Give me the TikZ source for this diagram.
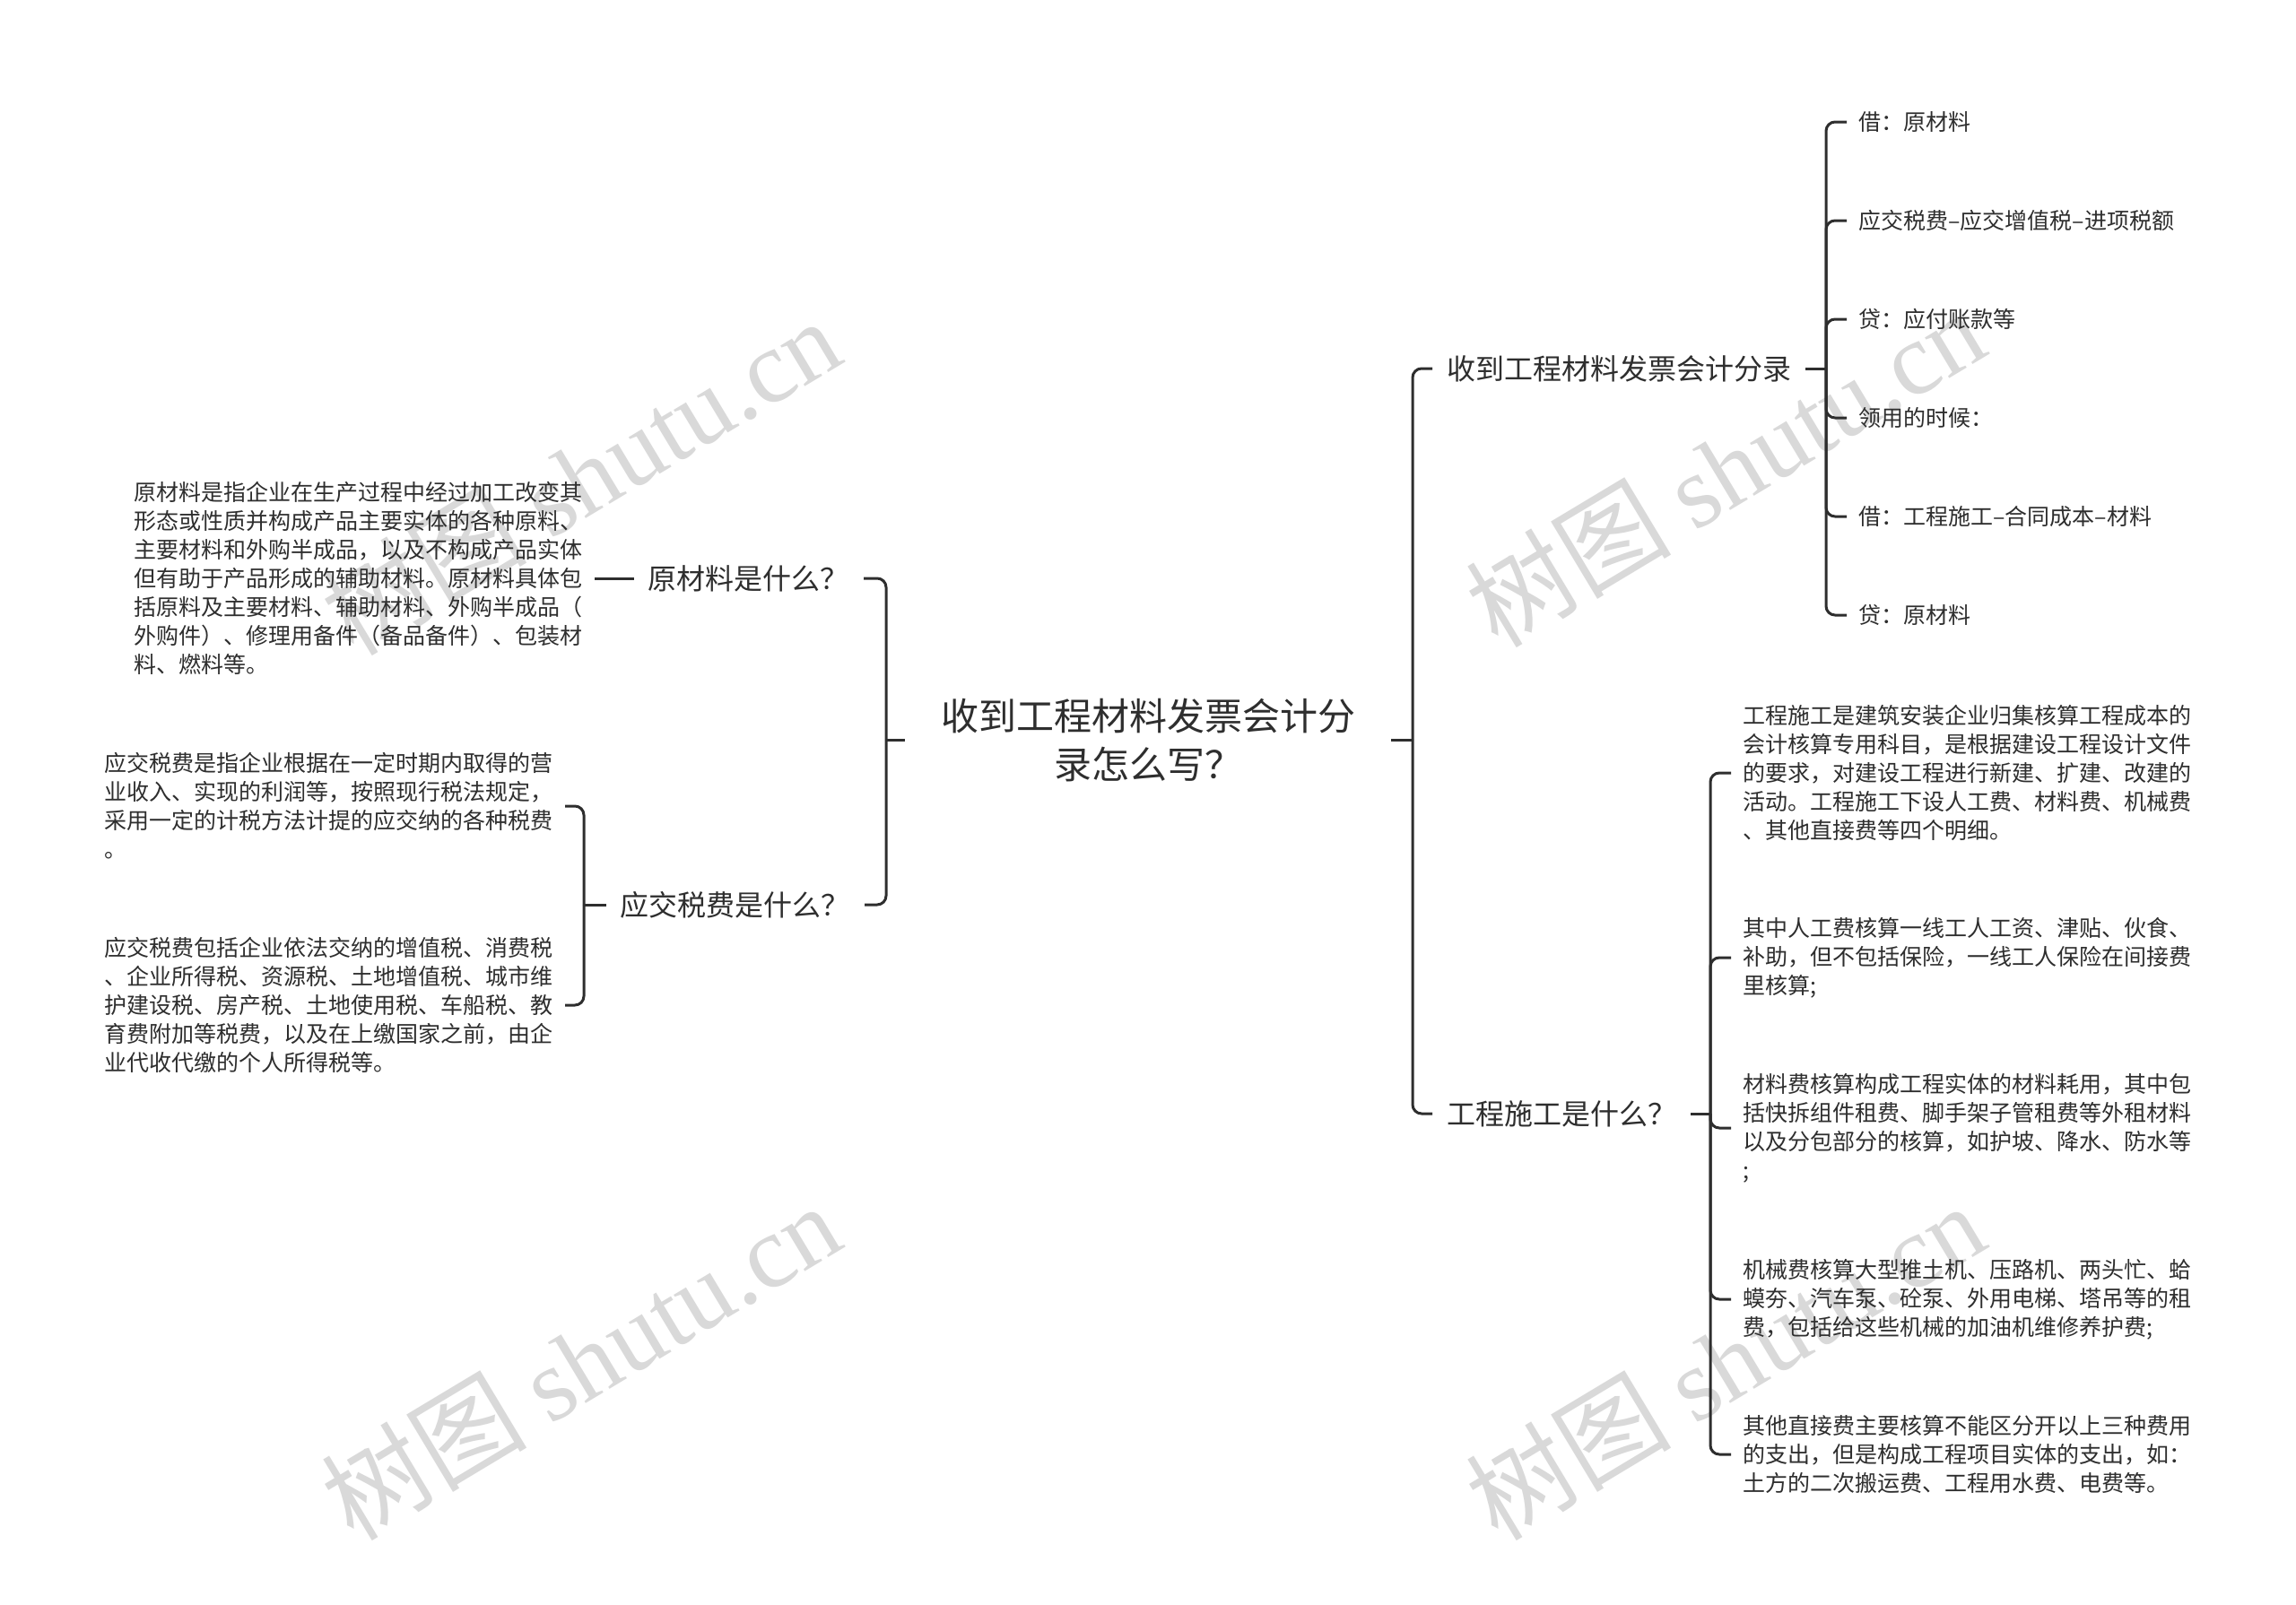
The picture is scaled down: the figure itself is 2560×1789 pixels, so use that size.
\documentclass[tikz,border=0pt]{standalone}
\usepackage{fontspec}
\setmainfont{Noto Sans CJK SC}
\newfontfamily\wmlatin{Liberation Serif}
\newfontfamily\wmcjk{Noto Sans CJK SC}
\usetikzlibrary{calc}
\definecolor{ink}{HTML}{2E2E2E}
\definecolor{wmgray}{HTML}{D9D9D9}
\begin{document}
\begin{tikzpicture}[x=1pt,y=-1pt,
  conn/.style={draw=ink, line width=3pt},
  rc/.style={rounded corners=10pt},
  rootnode/.style={inner xsep=40pt, inner ysep=4pt, align=center, font=\fontsize{42}{54}\selectfont, text=ink},
  topic/.style={inner xsep=16pt, inner ysep=4pt, font=\fontsize{32}{40}\selectfont, text=ink},
  leaf/.style={inner xsep=13pt, inner ysep=2pt, align=left, font=\fontsize{25}{32}\selectfont, text=ink},
  para/.style={leaf, text width=500pt},
  wmark/.style={text=wmgray, rotate=31, font=\fontsize{115}{120}\selectfont}
]
\fill[white] (0,0) rectangle (2560,1789);
\useasboundingbox (0,0) rectangle (2560,1789);

% watermarks
\node[wmark] (wm1) at (647,531) {{\wmcjk 树图} {\wmlatin shutu.cn}};
\node[wmark] (wm2) at (647,1518) {{\wmcjk 树图} {\wmlatin shutu.cn}};
\node[wmark] (wm3) at (1923,522) {{\wmcjk 树图} {\wmlatin shutu.cn}};
\node[wmark] (wm4) at (1923,1518) {{\wmcjk 树图} {\wmlatin shutu.cn}};

% root
\node[rootnode] (root) at (1280,825) {收到工程材料发票会计分\\录怎么写？};

% left topics
\node[topic, anchor=east] (L1) at (963,645) {原材料是什么？};
\node[topic, anchor=east] (L2) at (964,1009) {应交税费是什么？};

\node[para, anchor=east] (a1) at (663,645) {原材料是指企业在生产过程中经过加工改变其\\形态或性质并构成产品主要实体的各种原料、\\主要材料和外购半成品，以及不构成产品实体\\但有助于产品形成的辅助材料。原材料具体包\\括原料及主要材料、辅助材料、外购半成品（\\外购件）、修理用备件（备品备件）、包装材\\料、燃料等。};

\node[para, anchor=east] (b1) at (630,899) {应交税费是指企业根据在一定时期内取得的营\\业收入、实现的利润等，按照现行税法规定，\\采用一定的计税方法计提的应交纳的各种税费\\。};
\node[para, anchor=east] (b2) at (630,1121) {应交税费包括企业依法交纳的增值税、消费税\\、企业所得税、资源税、土地增值税、城市维\\护建设税、房产税、土地使用税、车船税、教\\育费附加等税费，以及在上缴国家之前，由企\\业代收代缴的个人所得税等。};

% right topics
\node[topic, anchor=west] (R1) at (1597,411) {收到工程材料发票会计分录};
\node[topic, anchor=west] (R2) at (1597,1242) {工程施工是什么？};

\node[leaf, anchor=west] (c1) at (2059,136) {借：原材料};
\node[leaf, anchor=west] (c2) at (2059,246) {应交税费–应交增值税–进项税额};
\node[leaf, anchor=west] (c3) at (2059,356) {贷：应付账款等};
\node[leaf, anchor=west] (c4) at (2059,466) {领用的时候：};
\node[leaf, anchor=west] (c5) at (2059,576) {借：工程施工–合同成本–材料};
\node[leaf, anchor=west] (c6) at (2059,686) {贷：原材料};

\node[para, anchor=west] (d1) at (1930,862) {工程施工是建筑安装企业归集核算工程成本的\\会计核算专用科目，是根据建设工程设计文件\\的要求，对建设工程进行新建、扩建、改建的\\活动。工程施工下设人工费、材料费、机械费\\、其他直接费等四个明细。};
\node[para, anchor=west] (d2) at (1930,1068) {其中人工费核算一线工人工资、津贴、伙食、\\补助，但不包括保险，一线工人保险在间接费\\里核算;};
\node[para, anchor=west] (d3) at (1930,1258) {材料费核算构成工程实体的材料耗用，其中包\\括快拆组件租费、脚手架子管租费等外租材料\\以及分包部分的核算，如护坡、降水、防水等\\;};
\node[para, anchor=west] (d4) at (1930,1449) {机械费核算大型推土机、压路机、两头忙、蛤\\蟆夯、汽车泵、砼泵、外用电梯、塔吊等的租\\费，包括给这些机械的加油机维修养护费;};
\node[para, anchor=west] (d5) at (1930,1622) {其他直接费主要核算不能区分开以上三种费用\\的支出，但是构成工程项目实体的支出，如：\\土方的二次搬运费、工程用水费、电费等。};

% trunk points
\coordinate (tL) at (988,825);
\coordinate (tL2) at (651,1009);
\coordinate (tR) at (1575,825);
\coordinate (tR1) at (2036,411);
\coordinate (tR2) at (1907,1242);

% connectors left
\draw[conn] (root.west) -- (tL);
\draw[conn,rc] (tL) |- (L1.east);
\draw[conn,rc] (tL) |- (L2.east);
\draw[conn] (L1.west) -- (a1.east);
\draw[conn] (L2.west) -- (tL2);
\draw[conn,rc] (tL2) |- (b1.east);
\draw[conn,rc] (tL2) |- (b2.east);

% connectors right
\draw[conn] (root.east) -- (tR);
\draw[conn,rc] (tR) |- (R1.west);
\draw[conn,rc] (tR) |- (R2.west);
\draw[conn] (R1.east) -- (tR1);
\foreach \c in {c1,c2,c3,c4,c5,c6} \draw[conn,rc] (tR1) |- (\c.west);
\draw[conn] (R2.east) -- (tR2);
\foreach \c in {d1,d2,d3,d4,d5} \draw[conn,rc] (tR2) |- (\c.west);
\end{tikzpicture}
\end{document}
